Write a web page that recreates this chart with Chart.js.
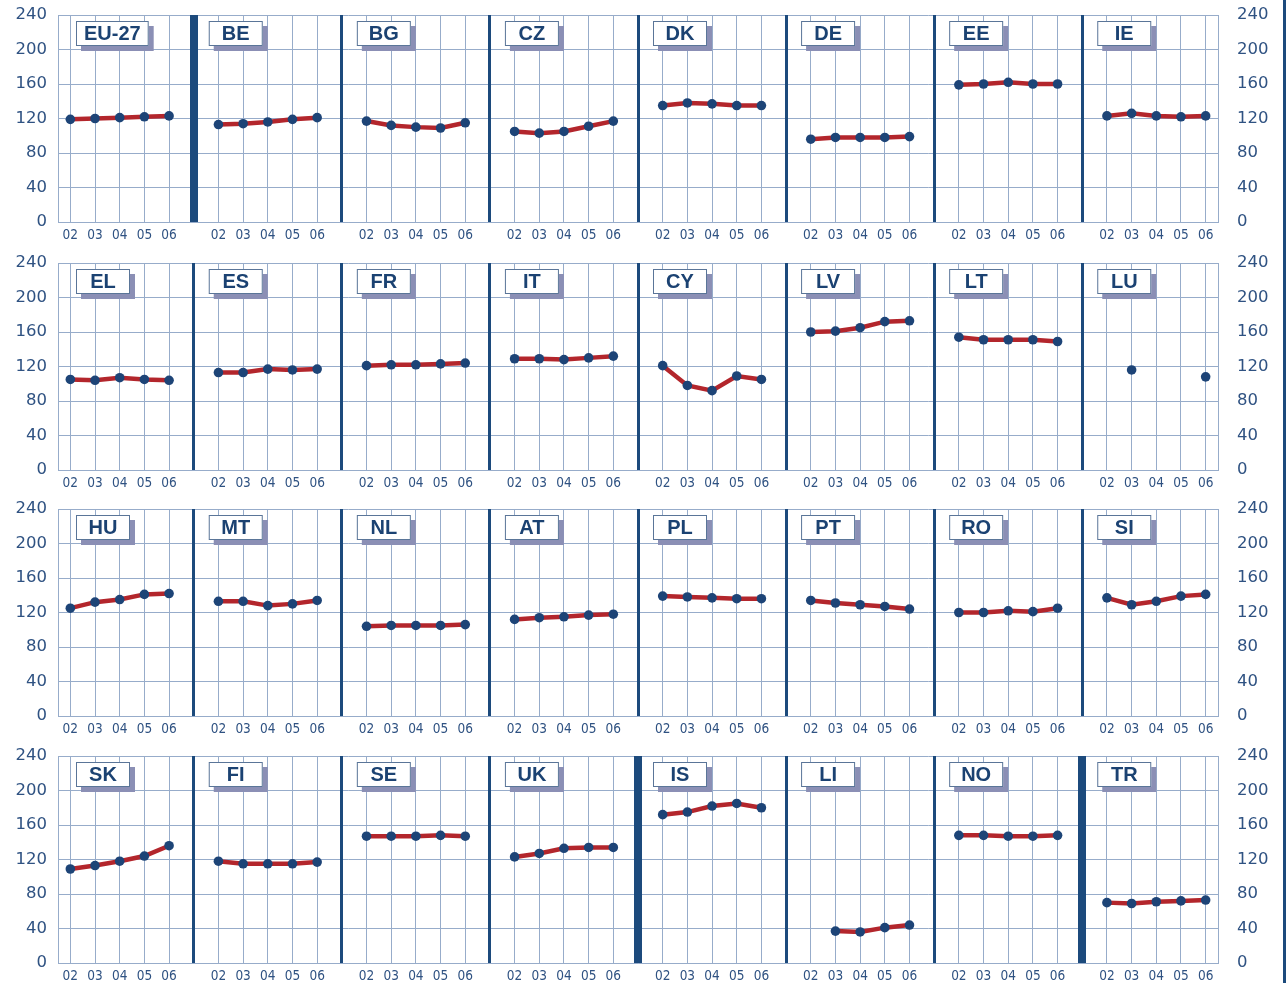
<!DOCTYPE html>
<html>

<head>
    <title>Index by country, 2002-2006</title>
    <script src="https://cdn.jsdelivr.net/npm/chart.js"></script>
    <style>
        * {
            margin: 0;
            padding: 0;
            box-sizing: border-box;
        }

        body {
            background-color: white;
            width: 1288px;
            height: 983px;
            overflow: hidden;
            position: relative;
        }

        .row {
            position: absolute;
            left: 0;
            width: 1288px;
            height: 242px;
        }

        .edge {
            position: absolute;
            left: 1283px;
            top: 0;
            width: 3px;
            height: 983px;
            background-color: #1c4a7c;
        }
    </style>
</head>

<body>
    <div class="row" style="top: 0px;"><canvas id="row1" width="1288" height="242"></canvas></div>
    <div class="row" style="top: 248px;"><canvas id="row2" width="1288" height="242"></canvas></div>
    <div class="row" style="top: 494px;"><canvas id="row3" width="1288" height="242"></canvas></div>
    <div class="row" style="top: 741px;"><canvas id="row4" width="1288" height="242"></canvas></div>
    <div class="edge"></div>

    <script>
        // x axis years and y axis ticks
        const years = ['02', '03', '04', '05', '06'];
        const yTicks = [0, 40, 80, 120, 160, 200, 240];

        // one list of countries and one list of values per row of panels
        const row1Countries = ['EU-27', 'BE', 'BG', 'CZ', 'DK', 'DE', 'EE', 'IE'];
        const row1Values = [
            [119, 120, 121, 122, 123],
            [113, 114, 116, 119, 121],
            [117, 112, 110, 109, 115],
            [105, 103, 105, 111, 117],
            [135, 138, 137, 135, 135],
            [96, 98, 98, 98, 99],
            [159, 160, 162, 160, 160],
            [123, 126, 123, 122, 123]
        ];

        const row2Countries = ['EL', 'ES', 'FR', 'IT', 'CY', 'LV', 'LT', 'LU'];
        const row2Values = [
            [105, 104, 107, 105, 104],
            [113, 113, 117, 116, 117],
            [121, 122, 122, 123, 124],
            [129, 129, 128, 130, 132],
            [121, 98, 92, 109, 105],
            [160, 161, 165, 172, 173],
            [154, 151, 151, 151, 149],
            [null, 116, null, null, 108]
        ];

        const row3Countries = ['HU', 'MT', 'NL', 'AT', 'PL', 'PT', 'RO', 'SI'];
        const row3Values = [
            [125, 132, 135, 141, 142],
            [133, 133, 128, 130, 134],
            [104, 105, 105, 105, 106],
            [112, 114, 115, 117, 118],
            [139, 138, 137, 136, 136],
            [134, 131, 129, 127, 124],
            [120, 120, 122, 121, 125],
            [137, 129, 133, 139, 141]
        ];

        const row4Countries = ['SK', 'FI', 'SE', 'UK', 'IS', 'LI', 'NO', 'TR'];
        const row4Values = [
            [109, 113, 118, 124, 136],
            [118, 115, 115, 115, 117],
            [147, 147, 147, 148, 147],
            [123, 127, 133, 134, 134],
            [172, 175, 182, 185, 180],
            [null, 37, 36, 41, 44],
            [148, 148, 147, 147, 148],
            [70, 69, 71, 72, 73]
        ];

        const navy = '#1c4a7c';
        const textBlue = '#2f5282';
        const gridBlue = '#97acca';

        // panel i sits between x = 6*i and x = 6*i + 6, the years at 6*i + 1 .. 6*i + 5
        const xTickValues = [];
        for (let v = 1; v < 48; v++) xTickValues.push(v);

        const panelLabels = {
            id: 'panelLabels',
            afterDraw(chart, args, opts) {
                const ctx = chart.ctx;
                const xs = chart.scales.x;
                const area = chart.chartArea;
                ctx.save();
                ctx.font = 'bold 20px "Liberation Sans", Arial, sans-serif';
                opts.names.forEach((name, i) => {
                    const border = xs.getPixelForValue(6 * i);
                    const left = i === 0 ? area.left + 18 : border + 15;
                    const top = area.top + 6;
                    const w = Math.max(54, ctx.measureText(name).width + 16);
                    const h = 25;
                    ctx.fillStyle = '#8b8fb5';
                    ctx.fillRect(left + 5, top + 5, w, h);
                    ctx.fillStyle = 'white';
                    ctx.fillRect(left, top, w, h);
                    ctx.strokeStyle = '#5a7598';
                    ctx.lineWidth = 1;
                    ctx.strokeRect(left + 0.5, top + 0.5, w - 1, h - 1);
                    ctx.fillStyle = '#1b4272';
                    ctx.textAlign = 'center';
                    ctx.textBaseline = 'middle';
                    ctx.fillText(name, left + w / 2, top + h / 2 + 1);
                });
                ctx.restore();
            }
        };

        function renderRow(canvasId, countries, values, thickSeparators) {
            const datasets = countries.map((name, i) => ({
                label: name,
                data: values[i].map((v, k) => ({ x: 6 * i + k + 1, y: v })),
                borderColor: '#b3262c',
                borderWidth: 4.5,
                pointRadius: 4.8,
                pointBackgroundColor: '#1d4477',
                pointBorderWidth: 0,
                spanGaps: false,
                tension: 0
            }));

            const yAxis = {
                min: 0,
                max: 240,
                afterBuildTicks: s => { s.ticks = yTicks.map(v => ({ value: v })); },
                border: { display: true, color: gridBlue, width: 1 },
                ticks: {
                    color: textBlue,
                    font: { family: '"DejaVu Sans", sans-serif', size: 16.5 }
                }
            };

            new Chart(document.getElementById(canvasId), {
                type: 'line',
                data: { datasets: datasets },
                options: {
                    responsive: false,
                    animation: false,
                    layout: { padding: { top: 15, left: 0, right: 0, bottom: 0 } },
                    plugins: {
                        legend: { display: false },
                        tooltip: { enabled: false },
                        panelLabels: { names: countries }
                    },
                    scales: {
                        x: {
                            type: 'linear',
                            min: 0.5,
                            max: 47.5,
                            afterBuildTicks: s => { s.ticks = xTickValues.map(v => ({ value: v })); },
                            afterFit: s => { s.height = 20; s.paddingLeft = 0; s.paddingRight = 0; },
                            border: { display: true, color: gridBlue, width: 1 },
                            grid: {
                                drawTicks: false,
                                z: -1,
                                color: c => (c.tick && c.tick.value % 6 === 0) ? navy : gridBlue,
                                lineWidth: c => {
                                    if (!c.tick || c.tick.value % 6 !== 0) return 1;
                                    return thickSeparators.includes(c.tick.value / 6) ? 8 : 3;
                                }
                            },
                            ticks: {
                                autoSkip: false,
                                maxRotation: 0,
                                padding: 5,
                                color: textBlue,
                                font: { family: '"DejaVu Sans Condensed", "Liberation Sans Narrow", sans-serif', size: 13.5 },
                                callback: v => (v % 6 === 0) ? '' : years[(v % 6) - 1]
                            }
                        },
                        y: Object.assign({}, yAxis, {
                            position: 'left',
                            afterFit: s => { s.width = 58; s.paddingTop = 0; s.paddingBottom = 0; },
                            grid: { drawTicks: false, color: gridBlue, lineWidth: 1, z: -2 },
                            ticks: Object.assign({}, yAxis.ticks, { padding: 11 })
                        }),
                        y2: Object.assign({}, yAxis, {
                            position: 'right',
                            afterFit: s => { s.width = 70; s.paddingTop = 0; s.paddingBottom = 0; },
                            grid: { display: false, drawTicks: false },
                            ticks: Object.assign({}, yAxis.ticks, { padding: 19 })
                        })
                    }
                },
                plugins: [panelLabels]
            });
        }

        renderRow('row1', row1Countries, row1Values, [1]);
        renderRow('row2', row2Countries, row2Values, []);
        renderRow('row3', row3Countries, row3Values, []);
        renderRow('row4', row4Countries, row4Values, [4, 7]);
    </script>
</body>

</html>
